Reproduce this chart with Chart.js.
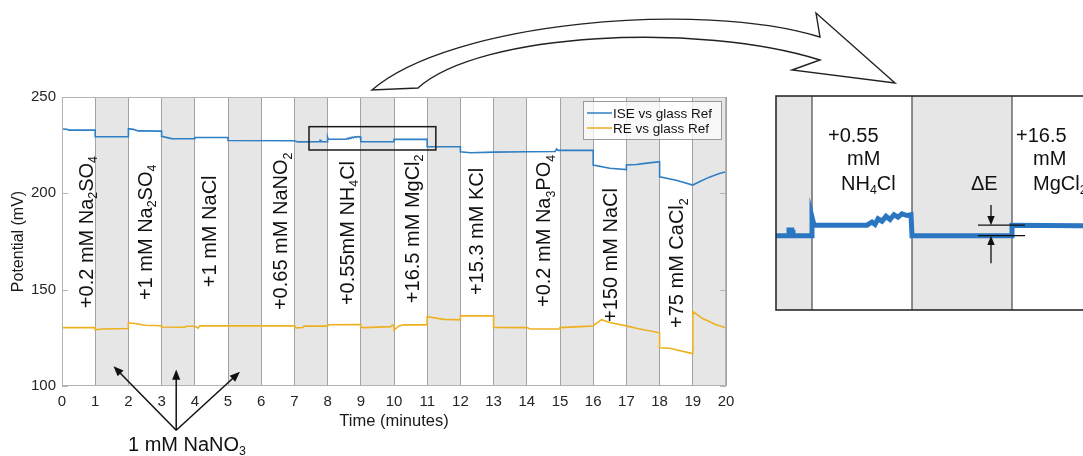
<!DOCTYPE html>
<html>
<head>
<meta charset="utf-8">
<script src="https://cdn.jsdelivr.net/npm/chart.js@4.4.1/dist/chart.umd.min.js"></script>
<style>
html,body{margin:0;padding:0;background:#fff;overflow:hidden}
#wrap{position:relative;width:1083px;height:456px;overflow:hidden}
#main{position:absolute;left:0;top:0}
#zoom{position:absolute;left:770px;top:90px}
</style>
</head>
<body>
<div id="wrap">
<canvas id="main" width="1083" height="456"></canvas>
<canvas id="zoom" width="350" height="226"></canvas>
</div>
<script>
/* ISE / RE potential vs time with salt additions, plus zoomed inset */
const FONT = '"Liberation Sans", Arial, Helvetica, sans-serif';

// ISE vs glass Ref (time in minutes, potential in mV)
const iseTime = [0, 0.15, 0.2, 1, 1, 2, 2, 2.15, 2.3, 3, 3, 3.3, 4, 4, 5, 5, 7, 7.1, 7.76, 7.77, 7.8, 7.81, 8, 8, 8.02, 8.55,
    8.6, 8.63, 8.66, 8.7, 8.74, 8.78, 8.82, 8.86, 8.9, 8.95, 8.99, 9, 10, 10, 11, 11, 12, 12, 12.3, 13, 14, 14.85, 14.9, 14.95,
    16, 16, 16.5, 17, 17, 17.3, 17.5, 18, 18, 18.5, 19, 19.2, 19.5, 19.8, 20];
const iseValue = [233.4, 233.3, 232.8, 232.8, 229.4, 229.4, 233.6, 233.2, 232.4, 232.3, 229.6, 228.4, 228.3, 229.0, 229.0, 227.4, 227.3, 226.7, 226.8, 227.5, 227.5, 226.8, 226.8, 229.1, 228.1, 228.1,
    228.5, 228.2, 228.9, 228.6, 229.2, 228.8, 229.4, 229.1, 229.5, 229.3, 229.4, 226.8, 226.8, 228.1, 228.0, 224.2, 224.2, 221.6, 221.1, 221.4, 221.6, 221.7, 223.0, 222.3,
    222.3, 214.7, 213.0, 212.3, 214.7, 215.0, 215.4, 216.4, 208.6, 206.8, 204.3, 206.0, 208.4, 210.3, 211.2];

// RE vs glass Ref
const reTime = [0, 1, 1, 1.2, 2, 2, 2.2, 2.5, 3, 3, 3.7, 3.75, 4, 4.1, 4.15, 5, 7, 7.05, 7.25, 7.3, 8, 8, 9, 9, 9.1, 9.9, 9.95, 10, 10, 10.15, 10.3, 11,
    11, 11.5, 12, 12, 13, 13, 14, 14.1, 15, 15, 15.9, 16, 16.25, 16.5, 17, 17.3, 18, 18, 18.3, 19, 19, 19.3, 19.7, 20];
const reValue = [130.3, 130.3, 129.2, 129.6, 129.8, 132.8, 132.4, 131.5, 131.3, 130.6, 130.5, 131.0, 131.0, 130.0, 131.2, 131.2, 131.2, 130.2, 130.4, 131.1, 131.1, 131.8, 131.9, 130.5, 130.3, 130.8, 131.6, 131.5, 129.0, 131.2, 131.8, 131.7,
    136.0, 134.6, 134.3, 136.4, 136.4, 130.4, 130.3, 129.6, 129.6, 130.3, 131.1, 131.3, 134.4, 133.0, 131.2, 130.0, 127.6, 119.8, 119.6, 116.8, 138.6, 135.0, 131.8, 130.2];

// shaded minute intervals (start of each 1-minute band)
const shadedFrom = [1, 3, 5, 7, 9, 11, 13, 15, 17, 19];

// additions, rotated labels
const addLabels = ['+0.2 mM Na_2SO_4', '+1 mM Na_2SO_4', '+1 mM NaCl', '+0.65 mM NaNO_2', '+0.55mM NH_4Cl',
    '+16.5 mM MgCl_2', '+15.3 mM KCl', '+0.2 mM Na_3PO_4', '+150 mM NaCl', '+75 mM CaCl_2'];
const addLabelX = [0.71, 2.5, 4.44, 6.57, 8.58, 10.54, 12.47, 14.5, 16.5, 18.5];
const addLabelY = [140.4, 144.6, 151.3, 139.4, 142.0, 143.0, 147.2, 141.0, 133.2, 130.1];

// zoom box on main plot [x0, x1, y0, y1]
const zoomBox = [7.44, 11.26, 222.5, 234.6];

// 1 mM NaNO3 callout: arrow tips and common origin
const nitrateTipX = [1.55, 3.44, 5.36];
const nitrateTipY = [110.3, 108.6, 107.4];
const nitrateFrom = [3.44, 77];

// inset ranges and notes
const insetX = [7.64, 11.08];
const insetY = [217.6, 244.1];
const insetNotes = [
    ['+0.55', 8.16, 238.4], ['mM', 8.35, 235.5], ['NH_4Cl', 8.29, 232.5],
    ['+16.5', 10.04, 238.4], ['mM', 10.21, 235.5], ['MgCl_2', 10.21, 232.5],
    ['\u0394E', 9.59, 232.5]
];
const deltaE = { x0: 9.66, x1: 10.13, hi: 228.1, lo: 226.8, ax: 9.79, top: 230.6, bottom: 223.4 };

const iseColor = '#2f7fc4';
const reColor = '#EDB120';

function pts(t, v) { return t.map((x, i) => ({ x, y: v[i] })); }

// text with "_d" subscripts
function drawRich(ctx, text, x, y, size) {
    const parts = text.split(/(_\d)/).filter(Boolean);
    let cx = x;
    parts.forEach(p => {
        const sub = p[0] === '_';
        const s = sub ? p[1] : p;
        ctx.font = (sub ? size * 0.62 : size) + 'px ' + FONT;
        ctx.fillText(s, cx, sub ? y + size * 0.22 : y);
        cx += ctx.measureText(s).width;
    });
}

function arrow(ctx, x0, y0, x1, y1, head) {
    const ang = Math.atan2(y1 - y0, x1 - x0);
    ctx.beginPath();
    ctx.moveTo(x0, y0);
    ctx.lineTo(x1 - Math.cos(ang) * head * 0.8, y1 - Math.sin(ang) * head * 0.8);
    ctx.stroke();
    ctx.beginPath();
    ctx.moveTo(x1, y1);
    ctx.lineTo(x1 - head * Math.cos(ang - 0.38), y1 - head * Math.sin(ang - 0.38));
    ctx.lineTo(x1 - head * Math.cos(ang + 0.38), y1 - head * Math.sin(ang + 0.38));
    ctx.closePath();
    ctx.fill();
}

const mainDeco = {
    id: 'mainDeco',
    beforeDraw(chart) {
        const { ctx, chartArea: a, scales: { x } } = chart;
        ctx.save();
        ctx.fillStyle = '#e6e6e6';
        shadedFrom.forEach(b => {
            const l = x.getPixelForValue(b), r = x.getPixelForValue(b + 1);
            ctx.fillRect(l, a.top, r - l, a.bottom - a.top);
        });
        ctx.restore();
    },
    afterDatasetsDraw(chart) {
        const { ctx, chartArea: a, scales: { x, y } } = chart;
        ctx.save();
        // frame + inward ticks
        ctx.strokeStyle = '#b3b3b3';
        ctx.lineWidth = 1;
        ctx.strokeRect(a.left + 0.5, a.top + 0.5, a.right - a.left - 1, a.bottom - a.top - 1);
        y.ticks.forEach(t => {
            const py = Math.round(y.getPixelForValue(t.value)) + 0.5;
            ctx.beginPath();
            ctx.moveTo(a.left, py); ctx.lineTo(a.left + 6, py);
            ctx.moveTo(a.right, py); ctx.lineTo(a.right - 6, py);
            ctx.stroke();
        });

        // zoom box
        ctx.strokeStyle = '#1a1a1a';
        ctx.lineWidth = 1.5;
        const bx0 = x.getPixelForValue(zoomBox[0]), bx1 = x.getPixelForValue(zoomBox[1]);
        const by0 = y.getPixelForValue(zoomBox[3]), by1 = y.getPixelForValue(zoomBox[2]);
        ctx.strokeRect(bx0, by0, bx1 - bx0, by1 - by0);

        // rotated addition labels
        ctx.fillStyle = '#111';
        ctx.textBaseline = 'alphabetic';
        addLabels.forEach((t, i) => {
            ctx.save();
            ctx.translate(x.getPixelForValue(addLabelX[i]), y.getPixelForValue(addLabelY[i]));
            ctx.rotate(-Math.PI / 2);
            drawRich(ctx, t, 0, 7, 20);
            ctx.restore();
        });

        // legend
        const lw = 138, lh = 38, lx = a.right - 5 - lw, ly = a.top + 4;
        ctx.fillStyle = 'rgba(255,255,255,0.72)';
        ctx.fillRect(lx, ly, lw, lh);
        ctx.strokeStyle = '#9a9a9a';
        ctx.lineWidth = 1;
        ctx.strokeRect(lx + 0.5, ly + 0.5, lw, lh);
        [['ISE vs glass Ref', iseColor], ['RE vs glass Ref', reColor]].forEach(([t, c], i) => {
            const yy = ly + 12 + i * 15;
            ctx.strokeStyle = c;
            ctx.lineWidth = 1.5;
            ctx.beginPath(); ctx.moveTo(lx + 4, yy); ctx.lineTo(lx + 29, yy); ctx.stroke();
            ctx.fillStyle = '#111';
            ctx.font = '13.5px ' + FONT;
            ctx.textBaseline = 'middle';
            ctx.fillText(t, lx + 30, yy + 1);
        });
        ctx.restore();
    },
    afterDraw(chart) {
        const { ctx, scales: { x, y } } = chart;
        ctx.save();
        // hollow curved arrow pointing at the inset
        ctx.beginPath();
        ctx.moveTo(372, 90);
        ctx.bezierCurveTo(450, 22, 700, 0, 820, 37);
        ctx.lineTo(816, 13);
        ctx.lineTo(895, 83);
        ctx.lineTo(792, 70);
        ctx.lineTo(820, 60);
        ctx.bezierCurveTo(700, 22, 480, 32, 418, 88);
        ctx.closePath();
        ctx.fillStyle = '#fff';
        ctx.fill();
        ctx.strokeStyle = '#222';
        ctx.lineWidth = 1.4;
        ctx.lineJoin = 'miter';
        ctx.stroke();

        // 1 mM NaNO3 callout
        ctx.strokeStyle = '#111';
        ctx.fillStyle = '#111';
        ctx.lineWidth = 1.5;
        const ox = x.getPixelForValue(nitrateFrom[0]), oy = y.getPixelForValue(nitrateFrom[1]);
        nitrateTipX.forEach((tx, i) => arrow(ctx, ox, oy, x.getPixelForValue(tx), y.getPixelForValue(nitrateTipY[i]), 11));
        ctx.textBaseline = 'alphabetic';
        drawRich(ctx, '1 mM NaNO_3', 128, 451, 20);
        ctx.restore();
    }
};

const insetDeco = {
    id: 'insetDeco',
    beforeDatasetsDraw(chart) {
        const { ctx, chartArea: a, scales: { x } } = chart;
        ctx.save();
        ctx.fillStyle = '#e6e6e6';
        shadedFrom.forEach(b => {
            const l = Math.max(a.left, x.getPixelForValue(b)), r = Math.min(a.right, x.getPixelForValue(b + 1));
            if (r > l) ctx.fillRect(l, a.top, r - l, a.bottom - a.top);
        });
        ctx.strokeStyle = '#555';
        ctx.lineWidth = 1.3;
        for (let m = Math.ceil(insetX[0]); m <= insetX[1]; m++) {
            const px = x.getPixelForValue(m);
            ctx.beginPath(); ctx.moveTo(px, a.top); ctx.lineTo(px, a.bottom); ctx.stroke();
        }
        ctx.restore();
    },
    afterDatasetsDraw(chart) {
        const { ctx, chartArea: a, scales: { x, y } } = chart;
        ctx.save();
        ctx.strokeStyle = '#2a2a2a';
        ctx.lineWidth = 1.6;
        ctx.strokeRect(a.left, a.top, a.right - a.left + 5, a.bottom - a.top);

        ctx.fillStyle = '#111';
        ctx.textBaseline = 'alphabetic';
        insetNotes.forEach(([t, nx, ny]) => drawRich(ctx, t, x.getPixelForValue(nx), y.getPixelForValue(ny), 20));

        // delta E marker
        ctx.strokeStyle = '#111';
        ctx.lineWidth = 1.3;
        const x0 = x.getPixelForValue(deltaE.x0), x1 = x.getPixelForValue(deltaE.x1);
        [deltaE.hi, deltaE.lo].forEach(v => {
            const py = y.getPixelForValue(v);
            ctx.beginPath(); ctx.moveTo(x0, py); ctx.lineTo(x1, py); ctx.stroke();
        });
        const ax = x.getPixelForValue(deltaE.ax);
        arrow(ctx, ax, y.getPixelForValue(deltaE.top), ax, y.getPixelForValue(deltaE.hi), 10);
        arrow(ctx, ax, y.getPixelForValue(deltaE.bottom), ax, y.getPixelForValue(deltaE.lo), 10);
        ctx.restore();
    }
};

new Chart(document.getElementById('main'), {
    type: 'line',
    data: {
        datasets: [
            { label: 'ISE vs glass Ref', data: pts(iseTime, iseValue), borderColor: iseColor, borderWidth: 1.6, pointRadius: 0, tension: 0 },
            { label: 'RE vs glass Ref', data: pts(reTime, reValue), borderColor: reColor, borderWidth: 1.6, pointRadius: 0, tension: 0 }
        ]
    },
    options: {
        responsive: false,
        animation: false,
        devicePixelRatio: 1,
        layout: { padding: { top: 97, right: 357, left: 0, bottom: 0 } },
        plugins: { legend: { display: false }, tooltip: { enabled: false } },
        scales: {
            x: {
                type: 'linear', min: 0, max: 20,
                afterFit: s => { s.height = 70; },
                ticks: { stepSize: 1, autoSkip: false, maxRotation: 0, padding: 7, color: '#262626', font: { family: FONT, size: 15 } },
                grid: { color: '#a3a3a3', lineWidth: 1, drawTicks: false },
                border: { display: false },
                title: { display: true, text: 'Time (minutes)', color: '#1a1a1a', font: { family: FONT, size: 16.5 }, padding: { top: 0, bottom: 25 } }
            },
            y: {
                min: 100, max: 250,
                afterFit: s => { s.width = 62; },
                ticks: { stepSize: 50, padding: 6, color: '#262626', font: { family: FONT, size: 15 } },
                grid: { display: false, drawTicks: false },
                border: { display: false },
                title: { display: true, text: 'Potential (mV)', color: '#1a1a1a', font: { family: FONT, size: 16 }, padding: { top: 9, bottom: 0 } }
            }
        }
    },
    plugins: [mainDeco]
});

new Chart(document.getElementById('zoom'), {
    type: 'line',
    data: {
        datasets: [
            { data: pts(iseTime, iseValue), borderColor: '#2a76c0', borderWidth: 5, pointRadius: 0, tension: 0 }
        ]
    },
    options: {
        responsive: false,
        animation: false,
        devicePixelRatio: 1,
        layout: { padding: { top: 6, right: 0, left: 6, bottom: 6 } },
        plugins: { legend: { display: false }, tooltip: { enabled: false } },
        scales: {
            x: { type: 'linear', display: false, min: insetX[0], max: insetX[1] },
            y: { display: false, min: insetY[0], max: insetY[1] }
        }
    },
    plugins: [insetDeco]
});
</script>
</body>
</html>
